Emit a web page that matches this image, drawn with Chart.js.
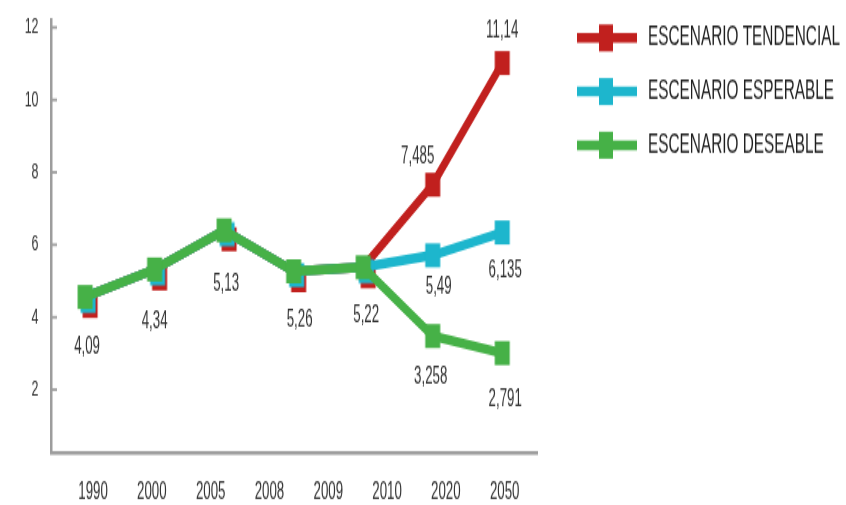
<!DOCTYPE html>
<html>
<head>
<meta charset="utf-8">
<script src="https://cdn.jsdelivr.net/npm/chart.js@4/dist/chart.umd.min.js"></script>
<style>
html, body { margin: 0; padding: 0; background: #fff; }
</style>
</head>
<body>
<!-- the original picture is stretched vertically, so the canvas is drawn short and stretched by css -->
<canvas id="chart" width="846" height="337" style="display:block;width:846px;height:505px"></canvas>
<script>
var years = ['1990', '2000', '2005', '2008', '2009', '2010', '2020', '2050'];
var yTicks = [2, 4, 6, 8, 10, 12];

var tendencial = [4.56, 5.32, 6.4, 5.27, 5.38, 7.66, 11.02];
var esperable = [4.56, 5.32, 6.4, 5.27, 5.38, 5.71, 6.34];
var deseable = [4.56, 5.32, 6.4, 5.27, 5.38, 3.48, 3.01];

var tendencialLabels = ['4,09', '4,34', '5,13', '5,26', '5,22', '7,485', '11,14'];
var esperableLabels = [null, null, null, null, null, '5,49', '6,135'];
var deseableLabels = [null, null, null, null, null, '3,258', '2,791'];

var S = 505 / 337;
var FONT = "'Liberation Sans Narrow', 'Liberation Sans', Arial, sans-serif";
var TEXT = '#333333';
var AXIS = '#9d9d9d';
var RED = '#c1201e';
var CYAN = '#1db6cd';
var GREEN = '#46b147';

// no narrow font here, so squeeze text sideways to the width of the original
var measureCtx = document.createElement('canvas').getContext('2d');
measureCtx.font = '18.5px ' + FONT;
var SX = 192 / measureCtx.measureText('ESCENARIO TENDENCIAL').width;

function squeezedText(ctx, txt, x, y, align) {
    ctx.save();
    ctx.translate(x, y);
    ctx.scale(SX, 1);
    ctx.textAlign = align;
    ctx.fillText(txt, 0, 0);
    ctx.restore();
}

function markerCanvas(color, dx, dy) {
    var c = document.createElement('canvas');
    c.width = 40;
    c.height = 40;
    var g = c.getContext('2d');
    g.fillStyle = color;
    g.fillRect(12.5 + dx, 12 + dy, 15, 16);
    return c;
}

function toPoints(values) {
    return values.map(function (v, i) { return { x: i, y: v }; });
}

function yearTickValue(i) {
    return 0.115 + i * 5.92 / (years.length - 1);
}

// shared points: red and cyan markers peek out below the green one
var redShift = markerCanvas(RED, 5, 6);
var redPlain = markerCanvas(RED, 0, 0);
var cyanShift = markerCanvas(CYAN, 3, 2.6);
var cyanPlain = markerCanvas(CYAN, 0, 0);
var greenPlain = markerCanvas(GREEN, 0, 0);

var pointLabelsPlugin = {
    id: 'pointLabels',
    afterDatasetsDraw: function (chart) {
        var ctx = chart.ctx;
        ctx.save();
        ctx.font = '16px ' + FONT;
        ctx.fillStyle = TEXT;
        ctx.textBaseline = 'middle';
        chart.data.datasets.forEach(function (ds, di) {
            var meta = chart.getDatasetMeta(di);
            ds.pointLabels.forEach(function (txt, i) {
                if (!txt) return;
                var pt = meta.data[i];
                var shift = ds.labelShift[i];
                squeezedText(ctx, txt, pt.x + shift[0], pt.y + shift[1], 'center');
            });
        });
        ctx.restore();
    }
};

var axisText = {
    id: 'axisText',
    afterDraw: function (chart) {
        var ctx = chart.ctx;
        var xs = chart.scales.x;
        var ys = chart.scales.y;
        var left = chart.chartArea.left;
        ctx.save();
        ctx.strokeStyle = AXIS;
        ctx.lineWidth = 1.8;
        ctx.fillStyle = TEXT;
        ctx.textBaseline = 'middle';
        ctx.font = '15px ' + FONT;
        yTicks.forEach(function (v) {
            var py = ys.getPixelForValue(v);
            ctx.beginPath();
            ctx.moveTo(left, py);
            ctx.lineTo(left + 6, py);
            ctx.stroke();
            squeezedText(ctx, String(v), 38.5, py, 'right');
        });
        ctx.font = '16px ' + FONT;
        years.forEach(function (y, i) {
            squeezedText(ctx, y, xs.getPixelForValue(yearTickValue(i)), 493 / S, 'center');
        });
        ctx.restore();
    }
};

var sideLegend = {
    id: 'sideLegend',
    afterDraw: function (chart) {
        var ctx = chart.ctx;
        ctx.save();
        ctx.font = '18.5px ' + FONT;
        ctx.textBaseline = 'middle';
        chart.data.datasets.forEach(function (ds, i) {
            var cy = 25.3 + i * 35.8;
            ctx.strokeStyle = ds.borderColor;
            ctx.lineWidth = 6.5;
            ctx.beginPath();
            ctx.moveTo(577, cy);
            ctx.lineTo(637, cy);
            ctx.stroke();
            ctx.fillStyle = ds.borderColor;
            ctx.fillRect(599, cy - 9, 14, 18);
            ctx.fillStyle = '#1e1e1e';
            squeezedText(ctx, ds.label, 648, cy, 'left');
        });
        ctx.restore();
    }
};

Chart.defaults.font.family = FONT;

new Chart(document.getElementById('chart').getContext('2d'), {
    type: 'line',
    data: {
        datasets: [
            {
                label: 'ESCENARIO TENDENCIAL',
                data: toPoints(tendencial),
                borderColor: RED,
                backgroundColor: RED,
                borderWidth: 6.5,
                pointRadius: 7,
                pointStyle: function (c) { return c.dataIndex < 5 ? redShift : redPlain; },
                order: 2,
                pointLabels: tendencialLabels,
                labelShift: [[2, 33], [0, 35], [2, 36], [6, 33], [3, 32], [-15, -19], [0, -21]]
            },
            {
                label: 'ESCENARIO ESPERABLE',
                data: toPoints(esperable),
                borderColor: CYAN,
                backgroundColor: CYAN,
                borderWidth: 6.5,
                pointRadius: 7,
                pointStyle: function (c) { return c.dataIndex < 5 ? cyanShift : cyanPlain; },
                order: 1,
                pointLabels: esperableLabels,
                labelShift: [[0, 0], [0, 0], [0, 0], [0, 0], [0, 0], [6, 21], [3, 25]]
            },
            {
                label: 'ESCENARIO DESEABLE',
                data: toPoints(deseable),
                borderColor: GREEN,
                backgroundColor: GREEN,
                borderWidth: 6.5,
                pointRadius: 7,
                pointStyle: greenPlain,
                order: 0,
                pointLabels: deseableLabels,
                labelShift: [[0, 0], [0, 0], [0, 0], [0, 0], [0, 0], [-2, 27], [3, 31]]
            }
        ]
    },
    options: {
        responsive: false,
        animation: false,
        devicePixelRatio: 1,
        layout: { padding: { top: 20 / S, right: 309, left: 0, bottom: 0 } },
        plugins: {
            legend: { display: false },
            tooltip: { enabled: false }
        },
        scales: {
            x: {
                type: 'linear',
                bounds: 'data',
                min: -0.49,
                max: 6.5,
                afterBuildTicks: function (axis) {
                    axis.ticks = years.map(function (y, i) { return { value: yearTickValue(i) }; });
                },
                afterFit: function (axis) { axis.height = 337 - 453 / S; },
                ticks: { display: false },
                grid: { display: false },
                border: { color: AXIS, width: 2.5 }
            },
            y: {
                bounds: 'data',
                min: 0.25,
                max: 12.2,
                afterBuildTicks: function (axis) {
                    axis.ticks = yTicks.map(function (v) { return { value: v }; });
                },
                afterFit: function (axis) { axis.width = 51; },
                ticks: { display: false },
                grid: { display: false },
                border: { color: AXIS, width: 2.5 }
            }
        }
    },
    plugins: [pointLabelsPlugin, axisText, sideLegend]
});
</script>
</body>
</html>
